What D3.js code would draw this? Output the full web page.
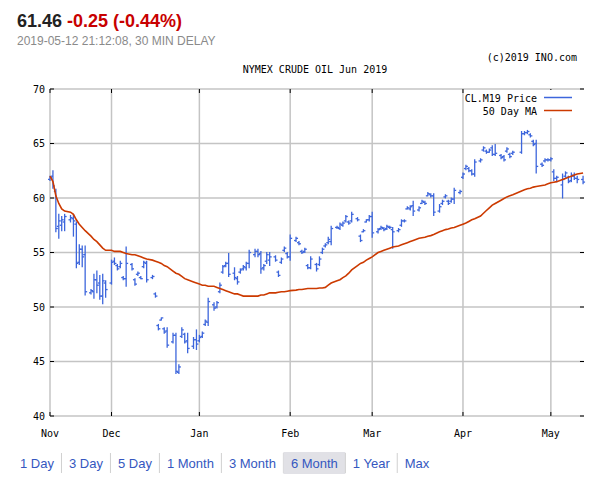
<!DOCTYPE html>
<html>
<head>
<meta charset="utf-8">
<script src="https://cdn.jsdelivr.net/npm/d3@7"></script>
<style>
  body { margin: 0; background: #fff; }
  svg { display: block; }
</style>
</head>
<body>
<svg id="chart" width="600" height="480"></svg>
<script>
// Quote header
const lastPrice = "61.46";
const priceChange = "-0.25 (-0.44%)";
const quoteTime = "2019-05-12 21:12:08, 30 MIN DELAY";
const chartTitle = "NYMEX CRUDE OIL Jun 2019";
const copyright = "(c)2019 INO.com";

// Sessions run every day except Saturdays; Good Friday had no session
const firstSession = "2018-11-11";
const lastSession = "2019-05-12";
const closedDays = ["2019-04-19"];

const monthTicks = ["2018-11-11", "2018-12-02", "2019-01-01", "2019-02-01", "2019-03-01", "2019-04-01", "2019-05-01"];
const monthLabels = ["Nov", "Dec", "Jan", "Feb", "Mar", "Apr", "May"];
const priceTicks = [40, 45, 50, 55, 60, 65, 70];

const legendLabels = ["CL.M19 Price", "50 Day MA"];
const rangeButtons = ["1 Day", "3 Day", "5 Day", "1 Month", "3 Month", "6 Month", "1 Year", "Max"];
const activeButton = "6 Month";

// One row per week (Sun..Fri)
const openPx = [
  61.7, 62.0, 60.6, 57.4, 57.5, 57.8,
  58.0, 58.1, 57.6, 54.1, 55.3, 54.8,
  51.3, 51.4, 52.5, 52.2, 51.0, 52.2,
  52.2, 54.2, 53.8, 53.7, 52.7, 52.6,
  53.9, 52.5, 53.0, 52.7, 53.7, 54.0,
  52.7, 51.2, 48.3, 48.8, 48.0, 47.8,
  46.8, 47.4, 44.0, 47.3, 47.5, 46.9,
  46.4, 47.0, 46.9, 47.3, 48.4, 48.6,
  50.2, 50.0, 51.4, 53.2, 53.8, 54.0,
  53.1, 52.6, 53.2, 53.5, 53.6, 54.0,
  54.8, 55.1, 54.9, 53.6, 54.2, 54.3,
  54.6, 53.2, 54.1, 55.2, 54.9, 54.6,
  56.1, 55.9, 55.1, 55.1, 53.8, 53.6,
  53.9, 53.9, 55.0, 55.6, 55.9, 56.0,
  57.3, 57.2, 57.5, 57.9, 57.8, 57.9,
  58.1, 56.5, 56.9, 57.8, 58.0, 58.3,
  56.9, 57.2, 57.2, 57.2, 57.3, 57.1,
  57.0, 57.5, 57.9, 59.0, 59.0, 59.3,
  58.9, 59.5, 59.6, 60.2, 60.3, 60.2,
  58.8, 59.5, 60.1, 59.7, 59.7, 59.9,
  60.5, 61.9, 62.7, 62.7, 62.5, 62.2,
  63.4, 64.4, 64.3, 64.2, 64.6, 64.0,
  63.9, 63.8, 64.3, 64.0, 64.1,
  64.2, 65.9, 66.0, 65.8, 65.2, 65.0,
  63.1, 63.4, 63.5, 63.5, 62.4, 61.8,
  61.2, 62.0, 61.9, 61.6, 62.0, 61.8,
  61.7
];
const highPx = [
  62.0, 62.5, 60.8, 58.5, 58.3, 58.5,
  58.4, 58.5, 57.8, 55.7, 55.6, 55.6,
  51.6, 53.0, 53.3, 52.9, 53.0, 52.4,
  54.3, 54.5, 53.9, 54.2, 52.8, 55.5,
  54.0, 52.6, 53.2, 52.8, 54.2, 54.2,
  52.9, 51.3, 48.4, 49.0, 48.1, 48.1,
  47.6, 47.6, 44.7, 48.1, 47.6, 47.6,
  47.2, 47.9, 47.4, 47.7, 48.8, 50.8,
  50.4, 50.5, 52.2, 53.8, 54.1, 54.9,
  53.6, 52.8, 53.5, 53.8, 54.1, 55.2,
  55.3, 55.3, 55.1, 53.9, 55.0, 55.0,
  54.7, 53.3, 54.5, 55.5, 55.0, 56.6,
  56.4, 56.0, 55.2, 55.4, 53.9, 54.6,
  54.0, 54.6, 55.4, 55.8, 56.4, 57.4,
  57.4, 57.7, 57.8, 58.4, 57.9, 58.7,
  58.2, 56.6, 57.1, 58.0, 58.4, 58.7,
  57.2, 57.4, 57.3, 57.5, 57.4, 57.3,
  57.2, 58.0, 58.0, 59.2, 59.3, 59.7,
  59.2, 59.8, 59.7, 60.5, 60.4, 60.4,
  59.4, 59.8, 60.3, 59.8, 60.0, 60.9,
  60.7, 62.3, 63.0, 62.8, 62.6, 63.5,
  63.6, 64.7, 64.4, 64.5, 64.8, 64.9,
  64.0, 63.9, 64.6, 64.1, 64.3,
  66.1, 66.1, 66.2, 65.9, 65.3, 65.3,
  63.2, 63.6, 63.6, 63.7, 62.6, 62.0,
  62.2, 62.4, 62.0, 62.3, 62.3, 62.0,
  62.0
];
const lowPx = [
  61.6, 60.9, 56.9, 56.3, 57.0, 57.0,
  57.8, 56.5, 53.6, 53.9, 53.7, 51.1,
  51.2, 50.8, 51.3, 50.7, 50.3, 50.9,
  52.1, 53.9, 53.4, 53.6, 52.5, 51.9,
  53.4, 52.0, 52.9, 52.6, 53.6, 52.3,
  52.6, 50.9, 47.9, 48.8, 47.6, 46.3,
  46.7, 43.9, 43.9, 47.2, 46.7, 45.8,
  46.2, 46.1, 46.8, 47.2, 48.3, 48.3,
  49.7, 49.9, 51.3, 53.1, 53.7, 52.8,
  52.5, 52.1, 53.1, 53.4, 53.4, 53.6,
  54.6, 54.6, 53.1, 53.4, 54.0, 53.8,
  54.2, 52.8, 54.0, 55.1, 54.5, 54.3,
  56.0, 55.7, 54.9, 55.0, 53.5, 53.5,
  53.3, 53.8, 54.9, 55.5, 55.8, 55.7,
  57.2, 57.1, 57.4, 57.8, 57.6, 57.8,
  57.9, 56.0, 56.9, 57.8, 57.9, 56.4,
  56.8, 57.1, 57.0, 57.1, 57.2, 55.4,
  56.9, 57.4, 57.8, 59.0, 58.9, 58.4,
  58.8, 59.5, 59.4, 60.2, 60.1, 58.4,
  58.7, 59.4, 60.0, 59.4, 59.6, 59.5,
  60.4, 61.8, 62.6, 62.4, 62.1, 62.0,
  63.3, 64.3, 64.1, 64.2, 63.9, 63.9,
  63.6, 63.4, 64.2, 63.7, 64.0,
  64.1, 65.8, 65.9, 65.6, 64.8, 62.3,
  62.9, 63.3, 63.4, 63.4, 61.6, 61.5,
  60.0, 61.9, 61.4, 61.5, 61.7, 61.4,
  61.3
];
const closePx = [
  61.9, 61.1, 57.2, 57.9, 58.0, 58.3,
  58.2, 57.9, 54.0, 55.3, 54.6, 51.4,
  51.5, 52.5, 52.0, 51.0, 52.4, 51.6,
  54.1, 54.0, 53.5, 54.0, 52.6, 54.0,
  53.5, 52.1, 53.1, 52.6, 54.1, 52.5,
  52.8, 51.0, 48.0, 49.0, 47.7, 46.5,
  47.4, 44.1, 44.5, 47.9, 46.8, 46.2,
  47.0, 46.6, 47.2, 47.6, 48.7, 50.5,
  49.9, 50.4, 52.0, 53.7, 54.0, 53.0,
  52.7, 52.3, 53.4, 53.7, 54.0, 55.0,
  55.1, 54.8, 53.5, 53.8, 54.8, 54.6,
  54.3, 52.9, 54.4, 55.4, 54.6, 56.3,
  56.3, 55.8, 55.0, 55.3, 53.6, 54.4,
  53.5, 54.4, 55.3, 55.7, 56.2, 57.2,
  57.3, 57.6, 57.7, 58.3, 57.7, 58.5,
  58.0, 56.1, 57.0, 58.0, 58.3, 56.8,
  57.1, 57.3, 57.1, 57.4, 57.3, 56.9,
  57.1, 57.9, 57.9, 59.1, 59.2, 58.8,
  59.1, 59.7, 59.5, 60.4, 60.2, 58.7,
  59.2, 59.7, 60.2, 59.5, 59.9, 60.7,
  60.6, 62.2, 62.9, 62.5, 62.2, 63.3,
  63.5, 64.6, 64.2, 64.4, 64.0, 64.1,
  63.7, 63.5, 64.5, 63.8, 64.2,
  65.9, 66.0, 66.1, 65.7, 64.9, 62.9,
  63.0, 63.5, 63.5, 63.6, 61.8, 61.9,
  61.7, 62.3, 61.5, 62.1, 61.8, 61.7,
  61.46
];
const movingAvg = [
  62.0, 61.5, 60.2, 59.5, 59.0, 58.8,
  58.7, 58.5, 58.0, 57.6, 57.3, 57.0,
  56.5, 56.2, 56.0, 55.7, 55.4, 55.2,
  55.2, 55.1, 55.1, 55.1, 55.0, 54.9,
  54.8, 54.8, 54.7, 54.6, 54.5, 54.4,
  54.3, 54.2, 54.1, 54.0, 53.8, 53.7,
  53.3, 53.1, 53.0, 52.8, 52.6, 52.5,
  52.3, 52.2, 52.1, 52.0, 52.0, 51.9,
  51.9, 51.8, 51.7, 51.6, 51.5, 51.4,
  51.2, 51.2, 51.1, 51.0, 51.0, 51.0,
  51.0, 51.0, 51.1, 51.1, 51.2, 51.3,
  51.3, 51.35, 51.4, 51.4, 51.45, 51.5,
  51.55, 51.6, 51.6, 51.65, 51.7, 51.7,
  51.7, 51.75, 51.75, 51.8, 52.0, 52.2,
  52.4, 52.5, 52.7, 52.85, 53.1, 53.4,
  53.8, 54.0, 54.1, 54.3, 54.45, 54.6,
  55.0, 55.1, 55.2, 55.3, 55.4, 55.5,
  55.6, 55.7, 55.8, 55.9, 56.0, 56.1,
  56.3, 56.35, 56.4, 56.5, 56.55, 56.65,
  56.9, 57.0, 57.1, 57.15, 57.25, 57.3,
  57.5, 57.6, 57.7, 57.85, 58.0, 58.1,
  58.35, 58.6, 58.85, 59.1, 59.35, 59.5,
  59.8, 59.95, 60.1, 60.2, 60.3,
  60.65, 60.75, 60.85, 60.9, 61.0, 61.05,
  61.15, 61.2, 61.3, 61.4, 61.45, 61.5,
  61.7, 61.8, 61.9, 62.0, 62.1, 62.2,
  62.3
];

const parseDay = d3.timeParse("%Y-%m-%d");
const fmtDay = d3.timeFormat("%Y-%m-%d");

const sessions = d3.timeDay
    .range(parseDay(firstSession), d3.timeDay.offset(parseDay(lastSession), 1))
    .filter(d => d.getDay() !== 6 && !closedDays.includes(fmtDay(d)));

const bars = sessions.map((date, i) => ({
    date: date,
    open: openPx[i],
    high: highPx[i],
    low: lowPx[i],
    close: closePx[i],
    ma: movingAvg[i]
}));

const svg = d3.select("#chart");
const plot = { left: 50, right: 584, top: 89, bottom: 416 };
const mono = "DejaVu Sans Mono, monospace";
const sans = "Liberation Sans, Arial, sans-serif";
const gridColor = "#c4c4c4";
const priceColor = "#3d66dc";
const maColor = "#cc3a00";

const x = d3.scaleTime()
    .domain([parseDay("2018-11-11"), parseDay("2019-05-13")])
    .range([50, 586]);

const y = d3.scaleLinear()
    .domain([40, 70])
    .range([plot.bottom, plot.top]);

const months = monthTicks.map(parseDay);

// Header
const head = svg.append("text")
    .attr("x", 17)
    .attr("y", 27)
    .attr("font-family", sans)
    .attr("font-size", 18)
    .attr("font-weight", "bold");
head.append("tspan").attr("fill", "#222").text(lastPrice);
head.append("tspan").attr("fill", "#c80000").text(" " + priceChange);

svg.append("text")
    .attr("x", 17)
    .attr("y", 45)
    .attr("font-family", sans)
    .attr("font-size", 12)
    .attr("fill", "#8a8a8a")
    .text(quoteTime);

svg.append("text")
    .attr("x", 577)
    .attr("y", 61)
    .attr("text-anchor", "end")
    .attr("font-family", mono)
    .attr("font-size", 10)
    .text(copyright);

svg.append("text")
    .attr("x", 315)
    .attr("y", 73)
    .attr("text-anchor", "middle")
    .attr("font-family", mono)
    .attr("font-size", 10)
    .text(chartTitle);

// Grid
const grid = svg.append("g").attr("stroke", gridColor).attr("stroke-width", 1.5);

grid.selectAll(".hgrid")
    .data(priceTicks)
    .join("line")
    .attr("x1", plot.left)
    .attr("x2", plot.right)
    .attr("y1", d => y(d))
    .attr("y2", d => y(d));

grid.selectAll(".vgrid")
    .data(months)
    .join("line")
    .attr("x1", d => x(d))
    .attr("x2", d => x(d))
    .attr("y1", plot.top)
    .attr("y2", plot.bottom);

// Tick marks, drawn inward on all four sides
const ticks = svg.append("g").attr("stroke", "#000").attr("stroke-width", 1);

ticks.selectAll(".lt")
    .data(priceTicks)
    .join("line")
    .attr("x1", plot.left)
    .attr("x2", plot.left + 4)
    .attr("y1", d => y(d))
    .attr("y2", d => y(d));

ticks.selectAll(".rt")
    .data(priceTicks)
    .join("line")
    .attr("x1", plot.right - 4)
    .attr("x2", plot.right)
    .attr("y1", d => y(d))
    .attr("y2", d => y(d));

ticks.selectAll(".bt")
    .data(months)
    .join("line")
    .attr("x1", d => x(d))
    .attr("x2", d => x(d))
    .attr("y1", plot.bottom)
    .attr("y2", plot.bottom - 4);

ticks.selectAll(".tt")
    .data(months)
    .join("line")
    .attr("x1", d => x(d))
    .attr("x2", d => x(d))
    .attr("y1", plot.top)
    .attr("y2", plot.top + 4);

// Axis labels
svg.append("g")
    .selectAll("text")
    .data(priceTicks)
    .join("text")
    .attr("x", 45)
    .attr("y", d => y(d))
    .attr("dy", "0.35em")
    .attr("text-anchor", "end")
    .attr("font-family", mono)
    .attr("font-size", 10)
    .text(d => d);

svg.append("g")
    .selectAll("text")
    .data(months)
    .join("text")
    .attr("x", d => x(d))
    .attr("y", 437)
    .attr("text-anchor", "middle")
    .attr("font-family", mono)
    .attr("font-size", 10)
    .text((d, i) => monthLabels[i]);

// OHLC bars
const ohlc = svg.append("g")
    .attr("stroke", priceColor)
    .attr("stroke-width", 1.3);

const bar = ohlc.selectAll("g")
    .data(bars)
    .join("g");

bar.append("line")
    .attr("x1", d => x(d.date))
    .attr("x2", d => x(d.date))
    .attr("y1", d => y(d.high) - 0.5)
    .attr("y2", d => y(d.low) + 0.5);

bar.append("line")
    .attr("x1", d => x(d.date) - 2)
    .attr("x2", d => x(d.date))
    .attr("y1", d => y(d.open))
    .attr("y2", d => y(d.open));

bar.append("line")
    .attr("x1", d => x(d.date))
    .attr("x2", d => x(d.date) + 2)
    .attr("y1", d => y(d.close))
    .attr("y2", d => y(d.close));

// 50 day moving average
svg.append("path")
    .datum(bars)
    .attr("fill", "none")
    .attr("stroke", maColor)
    .attr("stroke-width", 1.6)
    .attr("d", d3.line().x(d => x(d.date)).y(d => y(d.ma)));

// Legend
const legend = svg.append("g");
legend.append("rect")
    .attr("x", 466)
    .attr("y", 90)
    .attr("width", 113)
    .attr("height", 28)
    .attr("fill", "#fff");

legend.selectAll("text")
    .data(legendLabels)
    .join("text")
    .attr("x", 537)
    .attr("y", (d, i) => 102 + i * 13)
    .attr("text-anchor", "end")
    .attr("font-family", mono)
    .attr("font-size", 10)
    .text(d => d);

legend.selectAll("line")
    .data([priceColor, maColor])
    .join("line")
    .attr("x1", 544)
    .attr("x2", 572)
    .attr("y1", (d, i) => 97.5 + i * 13)
    .attr("y2", (d, i) => 97.5 + i * 13)
    .attr("stroke", d => d)
    .attr("stroke-width", 1.5);

// Range buttons
const nav = svg.append("g");
let cursor = 12.5;
const pad = 7.5;
rangeButtons.forEach((label, i) => {
    const btn = nav.append("g");
    const box = btn.append("rect");
    const txt = btn.append("text")
        .attr("y", 468)
        .attr("font-family", sans)
        .attr("font-size", 13)
        .attr("fill", "#3557c0")
        .text(label);
    const w = txt.node().getComputedTextLength();
    txt.attr("x", cursor + pad);
    box.attr("x", cursor)
        .attr("y", 452)
        .attr("width", w + pad * 2)
        .attr("height", 22)
        .attr("fill", label === activeButton ? "#e1e1e6" : "none");
    cursor += w + pad * 2;
    if (i < rangeButtons.length - 1) {
        nav.append("line")
            .attr("x1", cursor)
            .attr("x2", cursor)
            .attr("y1", 453)
            .attr("y2", 473)
            .attr("stroke", "#d0d0d0")
            .attr("stroke-width", 1);
    }
});
</script>
</body>
</html>
